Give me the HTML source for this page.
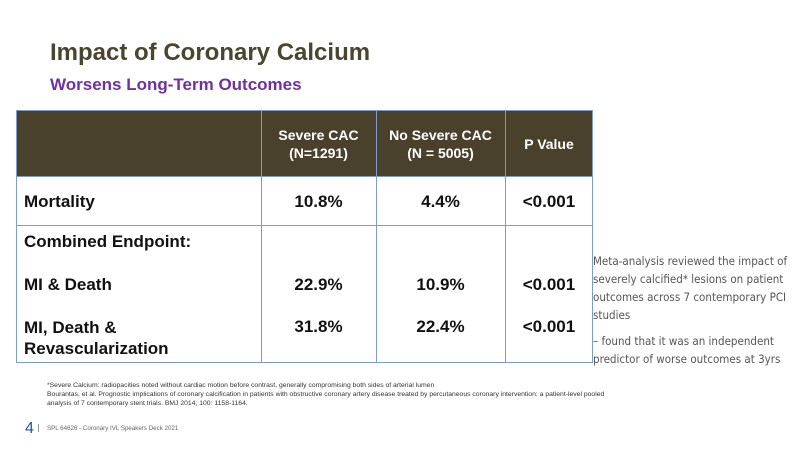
<!DOCTYPE html>
<html><head><style>
body{margin:0;width:800px;height:450px;background:#fff;position:relative;overflow:hidden;font-family:"Liberation Sans",sans-serif}
.a{position:absolute;white-space:nowrap}
.h{color:#fff;font-weight:bold;font-size:14px;text-align:center;line-height:18px}
.c{font-weight:bold;font-size:17px;color:#111}
.r{color:#555;font-family:"DejaVu Sans Condensed","Liberation Sans Narrow","Liberation Sans",sans-serif;font-size:11.5px;line-height:18px;left:593px;width:210px}
</style></head><body>
<div class="a" style="left:50px;top:39px;font-size:24px;font-weight:bold;color:#4a4530">Impact of Coronary Calcium</div>
<div class="a" style="left:50px;top:75px;font-size:17px;font-weight:bold;color:#7030a0">Worsens Long-Term Outcomes</div>

<div class="a" style="left:16px;top:110px;width:577px;height:66px;background:#4a412c"></div>
<div class="a" style="left:16px;top:110px;width:577px;height:253px;border:1px solid #7f9cc8;box-sizing:border-box"></div>
<div class="a" style="left:16px;top:176px;width:577px;height:1px;background:#7f9cc8"></div>
<div class="a" style="left:16px;top:225px;width:577px;height:1px;background:#7f9cc8"></div>
<div class="a" style="left:261px;top:110px;width:1px;height:253px;background:#7f9cc8"></div>
<div class="a" style="left:376px;top:110px;width:1px;height:253px;background:#7f9cc8"></div>
<div class="a" style="left:505px;top:110px;width:1px;height:253px;background:#7f9cc8"></div>

<div class="a h" style="left:261px;top:126px;width:115px">Severe CAC<br>(N=1291)</div>
<div class="a h" style="left:376px;top:126px;width:129px">No Severe CAC<br>(N = 5005)</div>
<div class="a h" style="left:505px;top:135px;width:88px">P Value</div>

<div class="a c" style="left:24px;top:192px">Mortality</div>
<div class="a c" style="left:24px;top:232px">Combined Endpoint:</div>
<div class="a c" style="left:24px;top:275px">MI &amp; Death</div>
<div class="a c" style="left:24px;top:317px;line-height:21px">MI, Death &amp;<br>Revascularization</div>

<div class="a c" style="left:261px;width:115px;text-align:center;top:192px">10.8%</div>
<div class="a c" style="left:376px;width:129px;text-align:center;top:192px">4.4%</div>
<div class="a c" style="left:505px;width:88px;text-align:center;top:192px">&lt;0.001</div>
<div class="a c" style="left:261px;width:115px;text-align:center;top:275px">22.9%</div>
<div class="a c" style="left:376px;width:129px;text-align:center;top:275px">10.9%</div>
<div class="a c" style="left:505px;width:88px;text-align:center;top:275px">&lt;0.001</div>
<div class="a c" style="left:261px;width:115px;text-align:center;top:317px">31.8%</div>
<div class="a c" style="left:376px;width:129px;text-align:center;top:317px">22.4%</div>
<div class="a c" style="left:505px;width:88px;text-align:center;top:317px">&lt;0.001</div>

<div class="a r" style="top:252px">Meta-analysis reviewed the impact of<br>severely calcified* lesions on patient<br>outcomes across 7 contemporary PCI<br>studies</div>
<div class="a r" style="top:332px">– found that it was an independent<br>predictor of worse outcomes at 3yrs</div>

<div class="a" style="left:47px;top:381px;font-size:6.8px;color:#333;line-height:9px;font-family:'Liberation Sans Narrow','Liberation Sans',sans-serif">*Severe Calcium: radiopacities noted without cardiac motion before contrast, generally compromising both sides of arterial lumen<br>Bourantas, et al. Prognostic implications of coronary calcification in patients with obstructive coronary artery disease treated by percutaneous coronary intervention: a patient-level pooled<br>analysis of 7 contemporary stent trials. BMJ 2014; 100: 1158-1164.</div>
<div class="a" style="left:25px;top:420px;font-size:16px;color:#2255a0">4</div>
<div class="a" style="left:38px;top:424px;width:1px;height:8px;background:#999"></div>
<div class="a" style="left:47px;top:425px;font-size:6.2px;color:#666">SPL 64626 - Coronary IVL Speakers Deck 2021</div>
</body></html>
